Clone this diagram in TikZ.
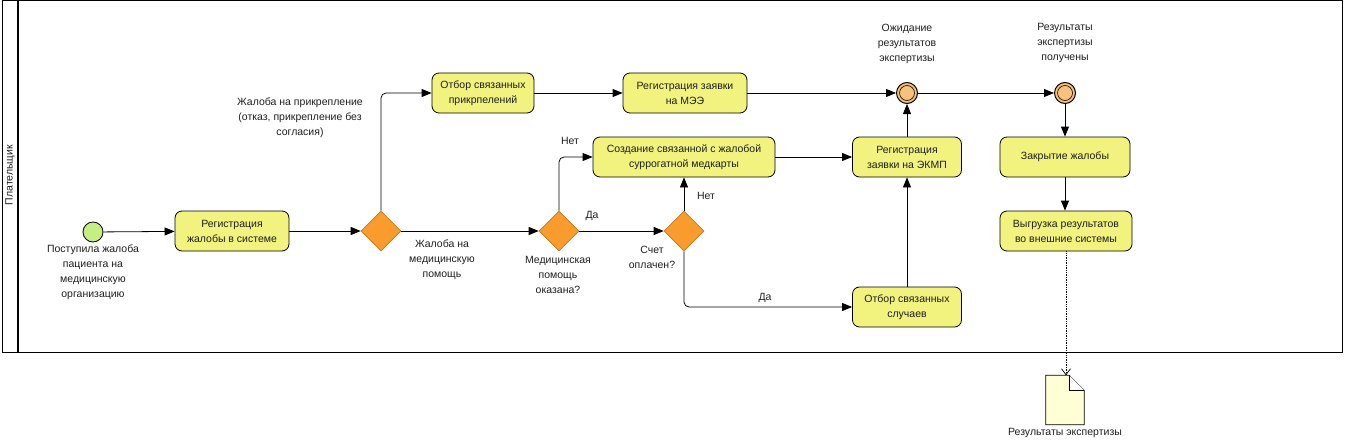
\documentclass[tikz,border=0pt]{standalone}
\usepackage{fontspec}
\setmainfont{Liberation Sans}
\usetikzlibrary{shapes.geometric,arrows.meta}
\definecolor{taskfill}{HTML}{F2F27E}
\definecolor{gwfill}{HTML}{F99B2D}
\definecolor{gwline}{HTML}{C87A20}
\definecolor{startfill}{HTML}{C6EE82}
\definecolor{evfill}{HTML}{F8C27C}
\definecolor{docfill}{HTML}{FFFFD6}
\definecolor{txt}{HTML}{1E1E1E}
\begin{document}
\begin{tikzpicture}[x=1pt,y=-1pt,
  every node/.style={font=\fontsize{10.5}{15}\selectfont, text=txt},
  task/.style={rectangle, rounded corners=7pt, draw=black, line width=0.8pt, fill=taskfill,
    minimum height=40pt, align=center, inner sep=2pt},
  gw/.style={diamond, draw=gwline, line width=0.6pt, fill=gwfill, minimum width=40pt, minimum height=40pt, inner sep=0pt},
  startev/.style={circle, draw=black, line width=0.8pt, fill=startfill, minimum size=20pt, inner sep=0pt},
  midev/.style={circle, draw=black, line width=1pt, fill=evfill, minimum size=21pt, inner sep=0pt},
  lbl/.style={align=center, inner sep=0pt},
  arr/.style={-{Triangle[length=10pt,width=8pt]}, line width=0.8pt, rounded corners=5pt},
  dotarr/.style={-{Straight Barb[length=6pt,width=9pt]}, line width=0.7pt, densely dotted},
]
\useasboundingbox (0,0) rectangle (1345,444);
% pool
\draw[line width=1pt] (2,1) rectangle (1342,352);
\draw[line width=1.6pt] (18,1) -- (18,352);
\node[rotate=90, inner sep=0pt] (lane) at (10,175) {Плательщик};

% nodes
\node[startev] (s) at (93,232) {};
\node[task, minimum width=114pt] (t1) at (232,231) {Регистрация\\жалобы в системе};
\node[gw] (g1) at (381,231) {};
\node[task, minimum width=102pt] (t2) at (483,93) {Отбор связанных\\прикрпелений};
\node[task, minimum width=124pt] (t3) at (685,93) {Регистрация заявки\\на МЭЭ};
\node[task, minimum width=182pt] (t4) at (684,157) {Создание связанной с жалобой\\суррогатной медкарты};
\node[gw] (g2) at (559,231) {};
\node[gw] (g3) at (684,231) {};
\node[task, minimum width=109pt] (t5) at (907,157) {Регистрация\\заявки на ЭКМП};
\node[task, minimum width=109pt] (t6) at (907,307) {Отбор связанных\\случаев};
\node[midev] (e1) at (907,93) {};
\draw[line width=0.6pt] (e1.center) circle (7.5pt);
\node[midev] (e2) at (1065,93) {};
\draw[line width=0.6pt] (e2.center) circle (7.5pt);
\node[task, minimum width=130pt] (t7) at (1065,157) {Закрытие жалобы};
\node[task, minimum width=132pt] (t8) at (1066,231) {Выгрузка результатов\\во внешние системы};

% document
\node[minimum width=38pt, minimum height=49pt, inner sep=0pt] (doc) at (1065,400) {};
\draw[line width=0.7pt, fill=docfill] (doc.south west) -- (doc.north west) -- ([xshift=-15pt]doc.north east)
  -- ([yshift=-15pt]doc.north east) -- (doc.south east) -- cycle;
\draw[line width=0.7pt, fill=white] ([xshift=-15pt]doc.north east) -- ([xshift=-15pt,yshift=-15pt]doc.north east)
  -- ([yshift=-15pt]doc.north east);
\node[lbl] (docl) at (1065,433) {Результаты экспертизы};

% labels
\node[lbl] (ls) at (93,272) {Поступила жалоба\\пациента на\\медицинскую\\организацию};
\node[lbl] (lp) at (300,118) {Жалоба на прикрепление\\(отказ, прикрепление без\\согласия)};
\node[lbl] (lm) at (442,260) {Жалоба на\\медицинскую\\помощь};
\node[lbl] (lg2) at (558,275) {Медицинская\\помощь\\оказана?};
\node[lbl] (lg3) at (652,257) {Счет\\оплачен?};
\node[lbl] (le1) at (907,44) {Ожидание\\результатов\\экспертизы};
\node[lbl] (le2) at (1065,43) {Результаты\\экспертизы\\получены};
\node[lbl] (n1) at (570,141) {Нет};
\node[lbl] (d1) at (592,216) {Да};
\node[lbl] (n2) at (706,196) {Нет};
\node[lbl] (d2) at (765,298) {Да};

% connectors
\draw[arr] (s) -- (t1);
\draw[arr] (t1) -- (g1);
\draw[arr] (g1.north) |- (t2.west);
\draw[arr] (g1) -- (g2);
\draw[arr] (t2) -- (t3);
\draw[arr] (t3) -- (e1);
\draw[arr] (g2.north) |- (t4.west);
\draw[arr] (g2) -- (g3);
\draw[arr] (g3) -- (t4);
\draw[arr] (g3.south) |- (t6.west);
\draw[arr] (t4) -- (t5);
\draw[arr] (t6) -- (t5);
\draw[arr] (t5) -- (e1);
\draw[arr] (e1) -- (e2);
\draw[arr] (e2) -- (t7);
\draw[arr] (t7.south) -- (t7.south |- t8.north);
\draw[dotarr] (t8.south) -- (t8.south |- doc.north);
\end{tikzpicture}
\end{document}
